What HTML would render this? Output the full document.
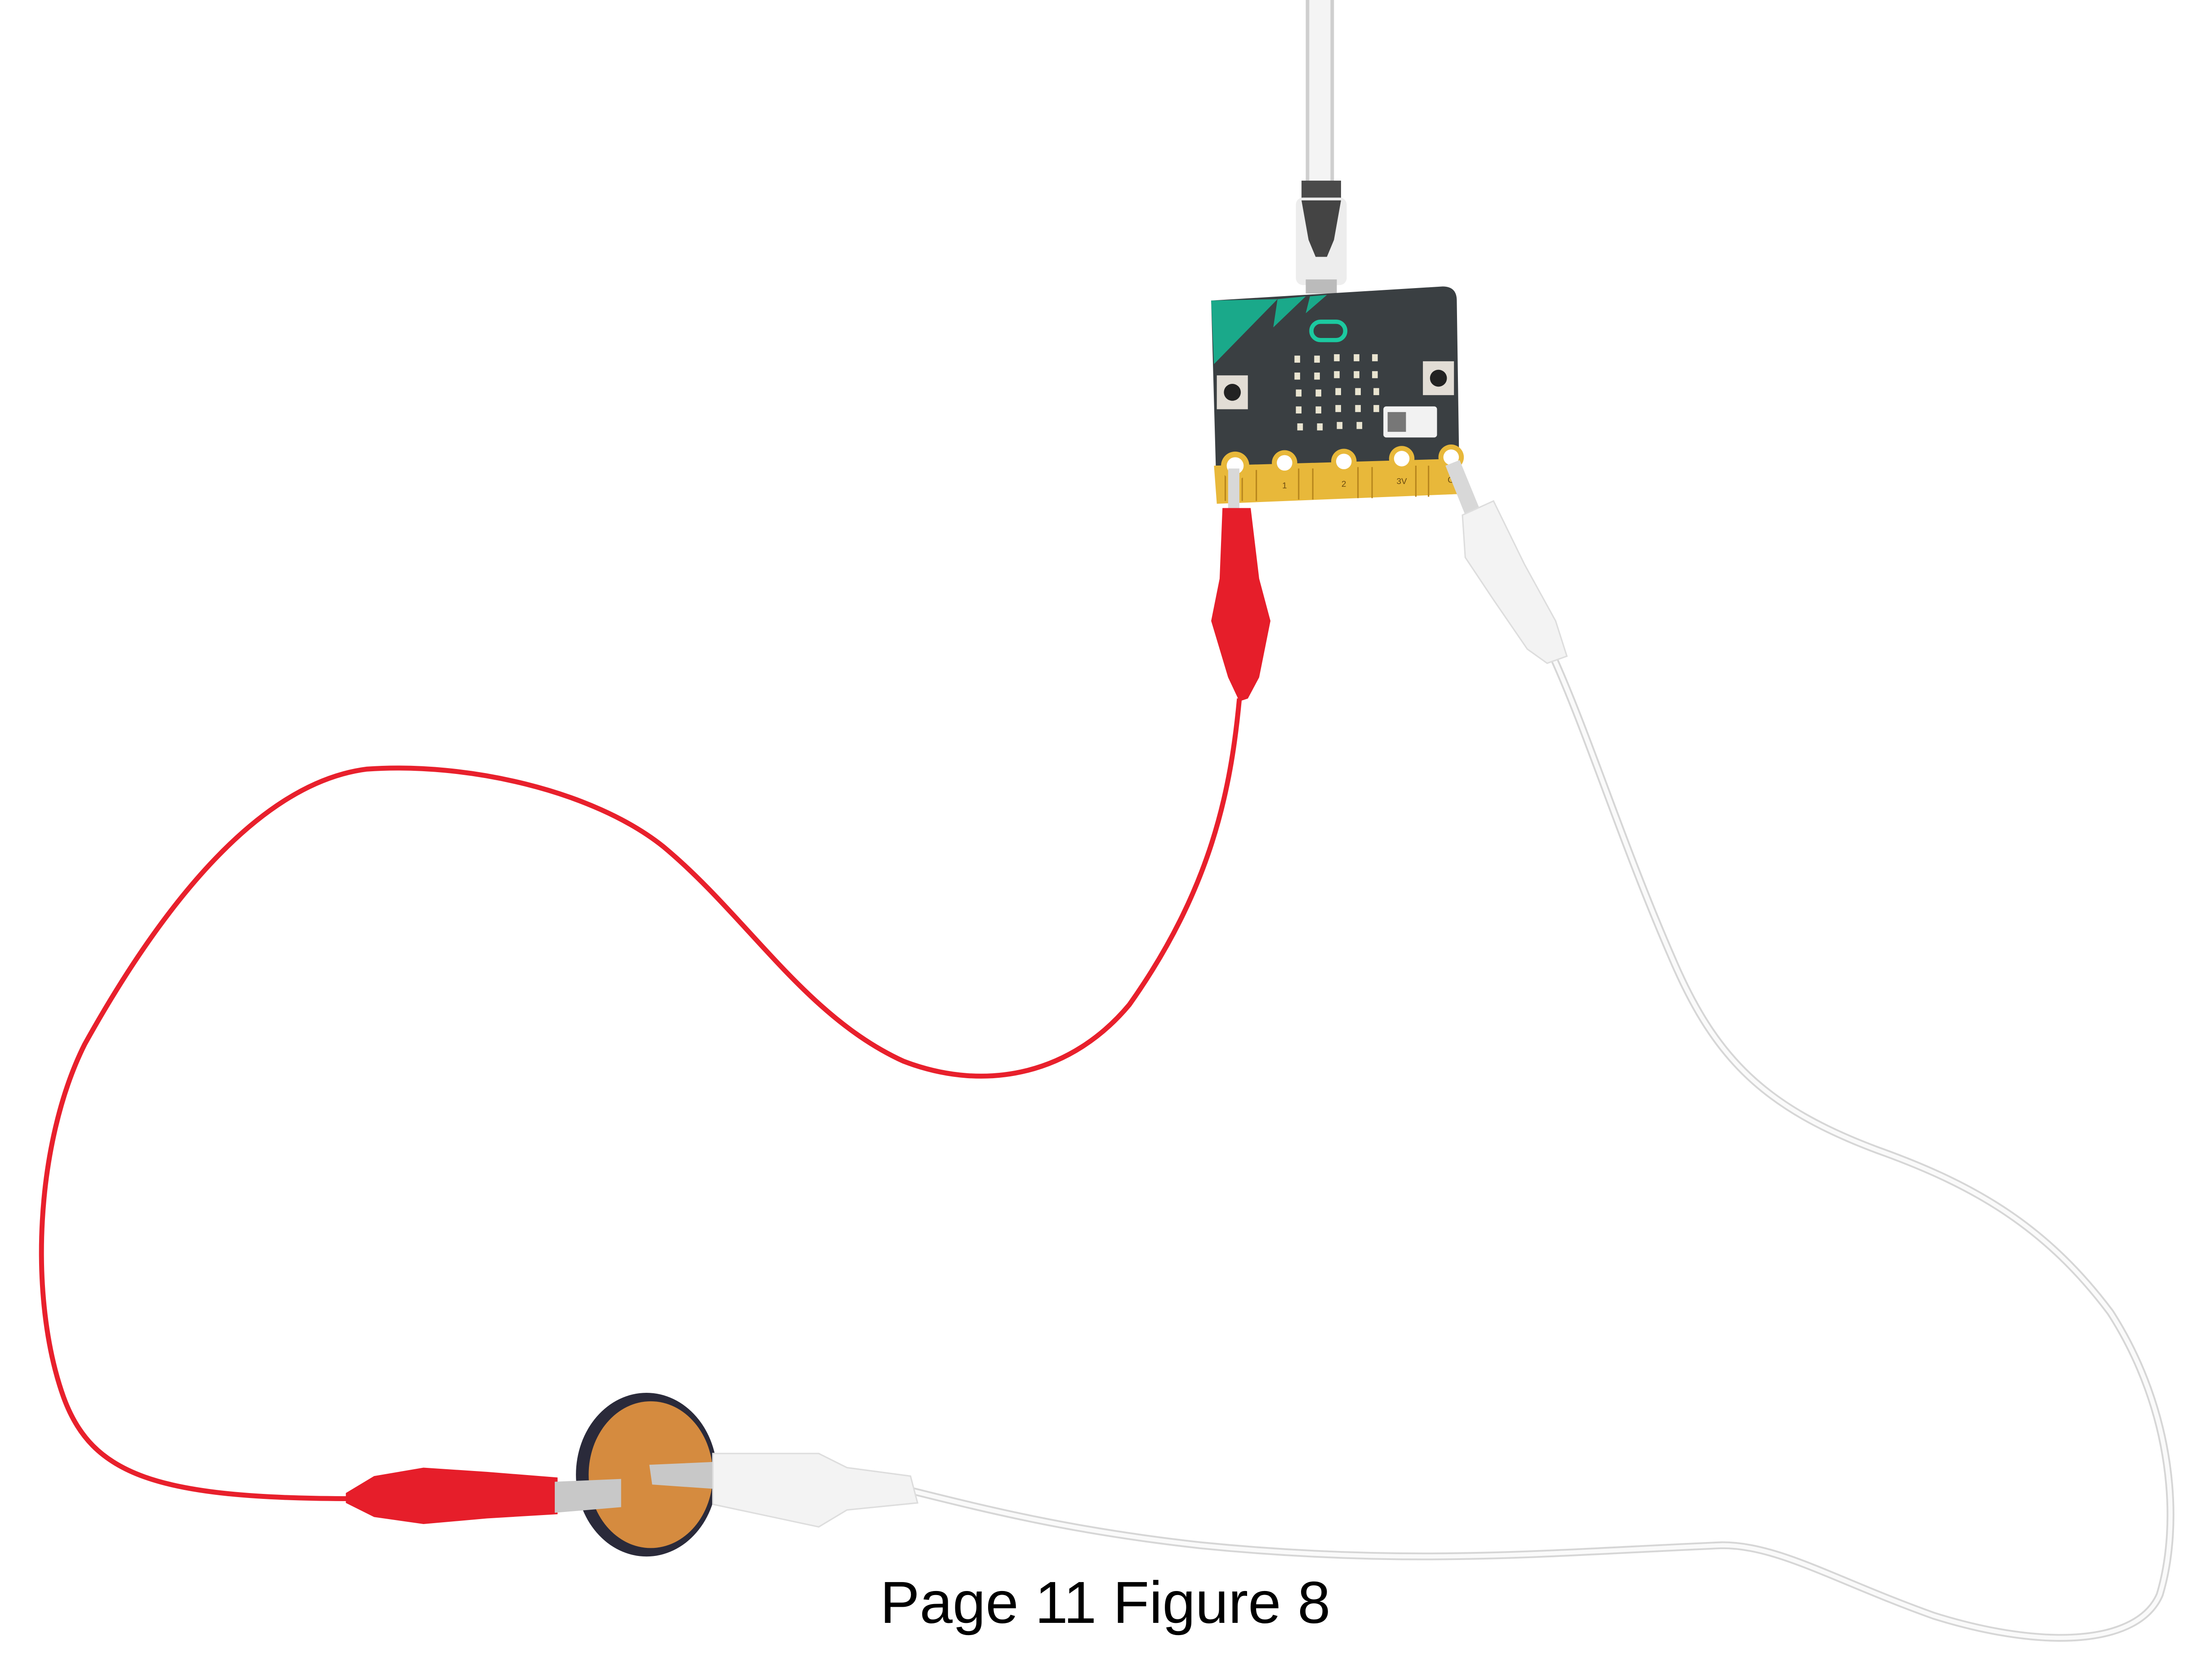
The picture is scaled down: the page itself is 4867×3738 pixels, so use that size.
<!DOCTYPE html>
<html><head><meta charset="utf-8"><style>
html,body{margin:0;padding:0;background:#fff;}
svg{display:block;}
</style></head><body>
<svg width="4867" height="3738" viewBox="0 0 1550 1190.5" preserveAspectRatio="none" xmlns="http://www.w3.org/2000/svg">
<rect width="1550" height="1190.5" fill="#fff"/>
<!-- USB cable -->
<path d="M935 0 L935 135" stroke="#cfcfcf" stroke-width="20" fill="none"/>
<path d="M935 0 L935 135" stroke="#f4f4f4" stroke-width="15" fill="none"/>
<rect x="922" y="128" width="28" height="14" fill="#4a4a4a"/>
<rect x="918" y="140" width="36" height="62" rx="5" fill="#ededed"/>
<path d="M922 142 L950 142 L945 170 L940 182 L932 182 L927 170 Z" fill="#444"/>
<rect x="925" y="198" width="22" height="10" fill="#bbb"/>
<!-- red wire -->
<path d="M878 495 C872 560 858 630 800 712 C760 760 700 775 640 752 C570 720 530 650 470 600 C420 560 330 540 260 545 C180 555 110 650 60 740 C25 810 20 920 45 990 C65 1045 110 1062 250 1062" stroke="#e8202c" stroke-width="3.5" fill="none"/>
<!-- white wire -->
<path d="M1100 465 C1125 520 1150 600 1185 680 C1215 750 1250 785 1330 815 C1400 840 1450 870 1495 930 C1540 1000 1545 1080 1530 1130 C1515 1165 1450 1170 1370 1145 C1300 1120 1260 1095 1220 1095 C1100 1100 1000 1110 850 1095 C760 1085 700 1070 640 1055" stroke="#d6d6d6" stroke-width="5.5" fill="none"/>
<path d="M1100 465 C1125 520 1150 600 1185 680 C1215 750 1250 785 1330 815 C1400 840 1450 870 1495 930 C1540 1000 1545 1080 1530 1130 C1515 1165 1450 1170 1370 1145 C1300 1120 1260 1095 1220 1095 C1100 1100 1000 1110 850 1095 C760 1085 700 1070 640 1055" stroke="#fafafa" stroke-width="3" fill="none"/>
<!-- micro:bit board -->
<path d="M858 213 L1022 203 Q1032 203 1032 213 L1034 350 L862 356 Z" fill="#3a3f42"/>
<path d="M858 213 L905 212 L860 258 Z" fill="#1aa98a"/>
<path d="M905 212 L925 210 L902 232 Z" fill="#1aa98a"/>
<path d="M928 210 L940 209 L925 222 Z" fill="#1aa98a"/>
<path d="M860 330 L1034 325 L1035 350 L862 357 Z" fill="#e8b83a"/>
<g stroke="#b8861d" stroke-width="1">
<line x1="868" y1="333" x2="868" y2="355"/><line x1="880" y1="333" x2="880" y2="355"/><line x1="890" y1="333" x2="890" y2="355"/><line x1="920" y1="332" x2="920" y2="354"/><line x1="930" y1="332" x2="930" y2="354"/><line x1="962" y1="331" x2="962" y2="353"/><line x1="972" y1="331" x2="972" y2="353"/><line x1="1003" y1="330" x2="1003" y2="352"/><line x1="1012" y1="330" x2="1012" y2="352"/>
</g>
<g fill="#e8b83a"><circle cx="875" cy="330" r="10"/><circle cx="910" cy="328" r="9"/><circle cx="952" cy="327" r="9"/><circle cx="993" cy="325" r="9"/><circle cx="1028" cy="324" r="9"/></g>
<g fill="#fff"><circle cx="875" cy="330" r="6"/><circle cx="910" cy="328" r="5.5"/><circle cx="952" cy="327" r="5.5"/><circle cx="993" cy="325" r="5.5"/><circle cx="1028" cy="324" r="5.5"/></g>
<g font-family="Liberation Sans, sans-serif" font-size="6" fill="#6a4a10" text-anchor="middle"><text x="910" y="346">1</text><text x="952" y="345">2</text><text x="993" y="343">3V</text><text x="1030" y="342">GN</text></g>
<rect x="929" y="228" width="24" height="13" rx="6.5" fill="none" stroke="#1cc9a0" stroke-width="3"/>
<g fill="#e9e4d0">
<rect x="917" y="252" width="4" height="5"/><rect x="931" y="252" width="4" height="5"/><rect x="945" y="251" width="4" height="5"/><rect x="959" y="251" width="4" height="5"/><rect x="972" y="251" width="4" height="5"/>
<rect x="917" y="264" width="4" height="5"/><rect x="931" y="264" width="4" height="5"/><rect x="945" y="263" width="4" height="5"/><rect x="959" y="263" width="4" height="5"/><rect x="972" y="263" width="4" height="5"/>
<rect x="918" y="276" width="4" height="5"/><rect x="932" y="276" width="4" height="5"/><rect x="946" y="275" width="4" height="5"/><rect x="960" y="275" width="4" height="5"/><rect x="973" y="275" width="4" height="5"/>
<rect x="918" y="288" width="4" height="5"/><rect x="932" y="288" width="4" height="5"/><rect x="946" y="287" width="4" height="5"/><rect x="960" y="287" width="4" height="5"/><rect x="973" y="287" width="4" height="5"/>
<rect x="919" y="300" width="4" height="5"/><rect x="933" y="300" width="4" height="5"/><rect x="947" y="299" width="4" height="5"/><rect x="961" y="299" width="4" height="5"/>
</g>
<rect x="862" y="266" width="22" height="24" fill="#e2ddd5"/><circle cx="873" cy="278" r="6" fill="#222"/>
<rect x="1008" y="256" width="22" height="24" fill="#e2ddd5"/><circle cx="1019" cy="268" r="6" fill="#222"/>
<rect x="980" y="288" width="38" height="22" rx="2" fill="#f2f2f2"/>
<rect x="983" y="292" width="13" height="14" fill="#777"/>
<!-- red clip at P0 -->
<rect x="870" y="332" width="8" height="30" fill="#d8d8d8"/>
<path d="M866 360 L886 360 L892 410 L900 440 L892 480 L884 495 L878 497 L870 480 L858 440 L864 410 Z" fill="#e61e2a"/>
<!-- white clip at GND -->
<path d="M1024 330 L1034 326 L1050 365 L1040 370 Z" fill="#d8d8d8"/>
<path d="M1036 365 L1058 355 L1080 400 L1102 440 L1110 465 L1096 470 L1082 460 L1058 425 L1038 395 Z" fill="#f3f3f3" stroke="#ddd" stroke-width="1"/>
<!-- piezo -->
<ellipse cx="458" cy="1045" rx="50" ry="58" fill="#2a2a3a"/>
<ellipse cx="461" cy="1045" rx="44" ry="52" fill="#d58b3f"/>
<!-- red bottom clip -->
<path d="M245 1058 L265 1046 L300 1040 L345 1043 L395 1047 L395 1073 L345 1076 L300 1080 L265 1075 L245 1065 Z" fill="#e61e2a"/>
<path d="M393 1050 L440 1048 L440 1068 L393 1072 Z" fill="#c8c8c8"/>
<!-- white bottom clip -->
<path d="M460 1038 L505 1036 L505 1055 L462 1052 Z" fill="#c8c8c8"/>
<path d="M505 1030 L580 1030 L600 1040 L645 1046 L650 1065 L600 1070 L580 1082 L505 1066 Z" fill="#f3f3f3" stroke="#ddd" stroke-width="1"/>
<!-- caption -->
<text x="783" y="1150" font-family="Liberation Sans, sans-serif" font-size="42" fill="#000" text-anchor="middle">Page 11 Figure 8</text>
</svg>
</body></html>
